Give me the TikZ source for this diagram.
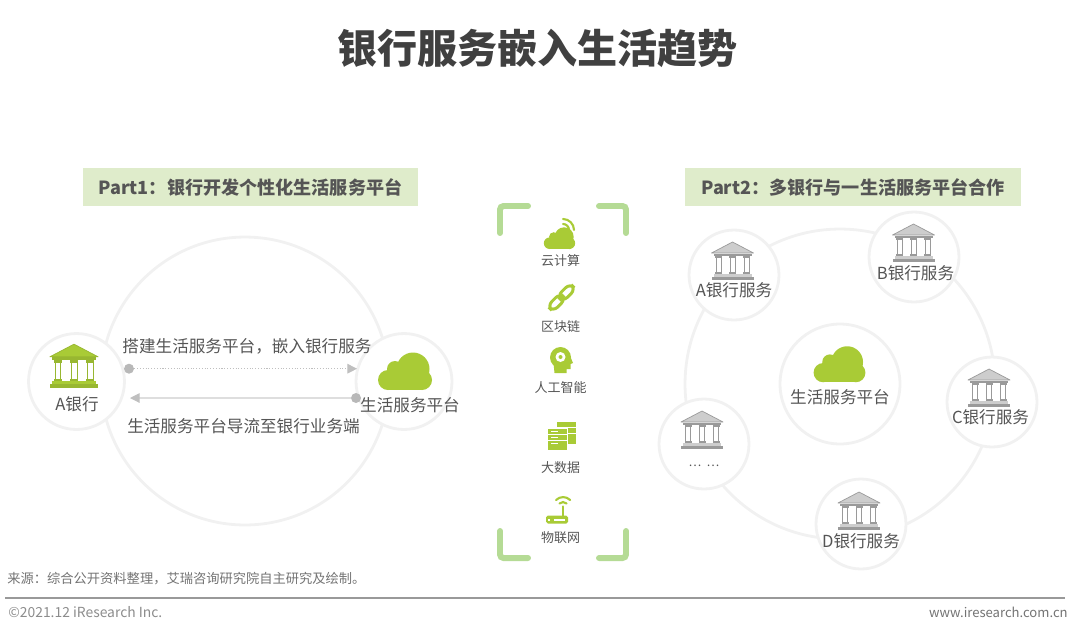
\documentclass[tikz,border=0pt]{standalone}
\usepackage{fontspec}
\setmainfont{Noto Sans CJK SC}
\usetikzlibrary{arrows.meta}

\definecolor{leaf}{HTML}{A9CB36}
\definecolor{bracket}{HTML}{B5DB95}
\definecolor{headfill}{HTML}{DFECCB}
\definecolor{ringgrey}{HTML}{F1F1F1}
\definecolor{bankline}{HTML}{9A9A9A}
\definecolor{bankroof}{HTML}{CDCDCD}
\definecolor{inktext}{HTML}{555555}

\tikzset{
    pics/bank/.style 2 args={code={
        \fill[#2, draw=#1, line width=0.4pt, line join=round] (0,-19) -- (21,-8) -- (-21,-8) -- cycle;
        \fill[#1] (-19,-7.5) rectangle (19,-5);
        \foreach \c in {-14,0,14} {
            \fill[white, draw=#1, line width=0.4pt] (\c-2.5,-4) rectangle (\c+2.5,12);
            \fill[#1] (\c-3.5,-5) rectangle (\c+3.5,-3);
            \fill[#1] (\c-3.5,11) rectangle (\c+3.5,13);
        }
        \fill[#2] (-19,13) rectangle (19,16);
        \fill[#1] (-21,16) rectangle (21,19);
    }},
    pics/cloudy/.style={code={
        \fill[leaf] (8,-2) circle[radius=16.5];
        \fill[leaf] (-10,-2) circle[radius=8];
        \fill[leaf] (-17,9) circle[radius=10];
        \fill[leaf] (17,9) circle[radius=10];
        \fill[leaf] (-17,0) rectangle (17,19);
    }}
}

\begin{document}
\begin{tikzpicture}[
    x=0.02cm, y=-0.02cm,
    every node/.style={text=inktext, inner sep=0pt},
    ringline/.style={draw=ringgrey, line width=1.6pt},
    spot/.style={circle, ringline, fill=white, minimum size=1.92cm},
    bankspot/.style={circle, ringline, fill=white, minimum size=1.8cm},
    bigspot/.style={circle, ringline, minimum size=5.76cm},
    ringspot/.style={circle, ringline, minimum size=6.2cm},
    hub/.style={circle, ringline, fill=white, minimum size=2.4cm},
    headbar/.style={fill=headfill, minimum width=6.72cm, minimum height=0.76cm, font=\fontsize{10.3pt}{12pt}\bfseries},
    label/.style={font=\fontsize{9.45pt}{11pt}\selectfont},
    small/.style={font=\fontsize{7.4pt}{9pt}\selectfont},
    foot/.style={font=\fontsize{7.55pt}{9pt}\selectfont, text=black!55},
    corner/.style={bracket, line width=3.4pt, line cap=round, rounded corners=2pt},
    dotend/.style={circle, fill=black!28, minimum size=0.2cm},
    flow/.style={-{Triangle[length=5.5pt, width=5.5pt, color=black!25]}, line width=0.6pt},
    icon/.style={leaf, line width=1.2pt, line cap=round}
]
\useasboundingbox (0,0) rectangle (1074,633);

% title and part headers
\node[font=\fontsize{22.8pt}{26pt}\bfseries, text=black!75] (title) at (537.5,48) {银行服务嵌入生活趋势};
\node[headbar] (part1) at (250.5,187) {Part1：银行开发个性化生活服务平台};
\node[headbar] (part2) at (853,187) {Part2：多银行与一生活服务平台合作};

% Part 1
\node[bigspot] (big) at (245,381) {};
\node[spot] (bankA) at (76.5,381.5) {};
\node[spot] (plat) at (404,381.5) {};
\pic[scale=1.15] at (74,366) {bank={leaf!90!black}{leaf}};
\node[label] (bankAtxt) at (77,404) {A银行};
\pic at (405,371) {cloudy};
\node[label] (plattxt) at (410,405) {生活服务平台};

\node[label] (buildtxt) at (247,346) {搭建生活服务平台，嵌入银行服务};
\node[label] (guidetxt) at (243.5,426) {生活服务平台导流至银行业务端};
\node[dotend] (dot1) at (129,368.7) {};
\coordinate (tip1) at (357,368.7);
\node[dotend] (dot2) at (356,398) {};
\coordinate (tip2) at (130,398);
\draw[flow, black!25, densely dotted] (dot1) -- (tip1);
\draw[flow, black!13] (dot2) -- (tip2);

% technology column
\draw[corner] (500,233) |- (528,206);
\draw[corner] (599,206) -| (626,233);
\draw[corner] (500,531) |- (528,558);
\draw[corner] (599,558) -| (626,531);

% cloud computing
\pic[scale=0.58] at (559.5,238) {cloudy};
\draw[icon] (563,224) arc[start angle=-90, end angle=0, radius=6];
\draw[icon] (563,219) arc[start angle=-90, end angle=0, radius=11];
\node[small] (cloudtxt) at (560.5,261) {云计算};

% blockchain
\begin{scope}[shift={(561.5,297.5)}, rotate=45]
    \draw[leaf, line width=1.7pt, rounded corners=3.5pt] (-16,-4) rectangle (2,4);
    \draw[leaf, line width=1.7pt, rounded corners=3.5pt] (-2,-4) rectangle (16,4);
\end{scope}
\node[small] (chaintxt) at (560.5,327) {区块链};

% artificial intelligence
\begin{scope}[shift={(561.5,360)}]
    \fill[leaf] (-1,-2.5) circle[radius=10.5];
    \fill[leaf] (-8,3) -- (-7,13) -- (5,13) -- (5,9) -- (9,9) -- (9,4) -- (11.5,3) -- (9,-3) -- cycle;
    \fill[white] (-1,-3) circle[radius=5];
    \fill[leaf] (-1,-3) circle[radius=2];
\end{scope}
\node[small] (mindtxt) at (560.5,388) {人工智能};

% big data
\begin{scope}[shift={(562,436)}]
    \foreach \a/\b in {-14/-9,-8/-3,-2/8}
        \fill[leaf] (-5,\a) rectangle (14,\b);
    \foreach \a/\b in {-7/-2,-1/4,5/13.5} {
        \fill[white] (-15,\a-1) rectangle (6,\b+1);
        \fill[leaf] (-14,\a) rectangle (5,\b);
        \fill[white] (-11,\a+1.7) rectangle (-4,\a+3.2);
    }
\end{scope}
\node[small] (datatxt) at (560.5,468) {大数据};

% internet of things
\begin{scope}[shift={(557,510.5)}]
    \fill[leaf, rounded corners=1pt] (-11,5) rectangle (11,13);
    \fill[white] (-9,8.3) rectangle (-7,10);
    \fill[white] (-3,8.3) rectangle (8,10);
    \draw[icon] (6,-4) -- (6,5);
    \draw[icon] (2.5,-7) arc[start angle=-135, end angle=-45, radius=5];
    \draw[icon] (-1,-10.5) arc[start angle=-135, end angle=-45, radius=10];
\end{scope}
\node[small] (iottxt) at (560.5,538) {物联网};

% Part 2
\node[ringspot] (ring) at (840,384) {};
\node[hub] (center) at (840,384) {};
\pic[scale=0.96] at (839.5,364) {cloudy};
\node[label] (centertxt) at (840,397) {生活服务平台};

\foreach \n/\cx/\cy/\ix/\iy/\lx/\ly/\txt in {
    A/734/275/732.5/261/734/290/A银行服务,
    B/914/257/913.5/243/915.5/273/B银行服务,
    C/992/402/989/388/990.5/417/C银行服务,
    D/861/524/859/511/861/541/D银行服务} {
    \node[bankspot] (node\n) at (\cx,\cy) {};
    \pic at (\ix,\iy) {bank={bankline}{bankroof}};
    \node[label] (txt\n) at (\lx,\ly) {\txt};
}
\node[bankspot] (nodeE) at (704,444) {};
\pic at (702,430) {bank={bankline}{bankroof}};
\node[font=\fontsize{6.8pt}{8pt}\selectfont] (txtE) at (704,466) {…\hspace{3pt}…};

% source line and footer
\node[foot, anchor=west] (source) at (7,579) {来源：综合公开资料整理，艾瑞咨询研究院自主研究及绘制。};
\coordinate (ruleL) at (5,598);
\coordinate (ruleR) at (1065,598);
\draw[black!40, line width=0.6pt] (ruleL) -- (ruleR);
\node[foot, anchor=west, font=\fontsize{7.9pt}{9pt}\selectfont, text=black!45] (copy) at (8,612) {©2021.12 iResearch Inc.};
\node[foot, anchor=east, font=\fontsize{7.45pt}{9pt}\selectfont] (site) at (1068,612) {www.iresearch.com.cn};
\end{tikzpicture}
\end{document}
